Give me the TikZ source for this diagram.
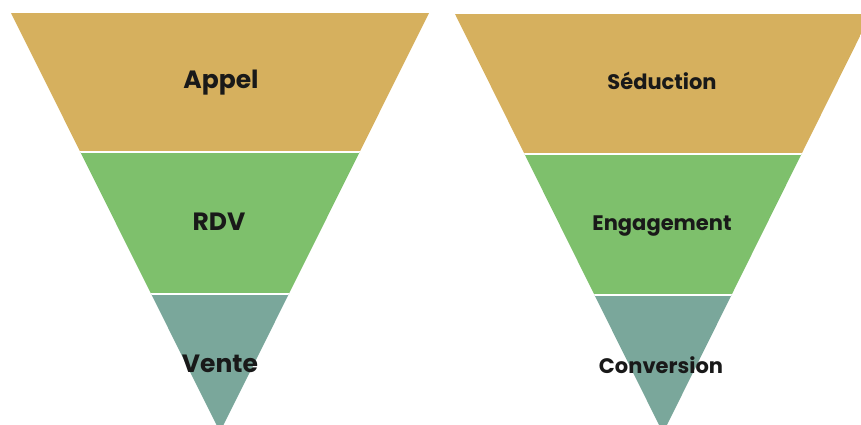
\documentclass[tikz,border=0pt]{standalone}
\usepackage{fontspec}
\setmainfont{Poppins}

\definecolor{funnelgold}{RGB}{214,176,94}
\definecolor{funnelgreen}{RGB}{126,192,108}
\definecolor{funnelteal}{RGB}{122,167,155}

\tikzset{
  bigstage/.style={font=\bfseries\fontsize{25}{25}\selectfont, anchor=base, text=black!90},
  smallstage/.style={font=\bfseries\fontsize{21}{21}\selectfont, anchor=base, text=black!90},
  gapline/.style={white, line width=2.5pt}
}

\begin{document}
\begin{tikzpicture}[x=1pt, y=-1pt]

  \useasboundingbox (0,0) rectangle (861,425);

  % Left funnel
  \begin{scope}
    \clip (11,13) -- (429,13) -- (220,432) -- cycle;
    \fill[funnelgold]  (0,13)  rectangle (440,152);
    \fill[funnelgreen] (0,152) rectangle (440,294);
    \fill[funnelteal]  (0,294) rectangle (440,440);
    \draw[gapline] (0,152) -- (440,152);
    \draw[gapline] (0,294) -- (440,294);
  \end{scope}

  % Right funnel
  \begin{scope}
    \clip (455,14) -- (871,14) -- (663,433) -- cycle;
    \fill[funnelgold]  (440,14)  rectangle (880,154);
    \fill[funnelgreen] (440,154) rectangle (880,295);
    \fill[funnelteal]  (440,295) rectangle (880,440);
    \draw[gapline] (440,154) -- (880,154);
    \draw[gapline] (440,295) -- (880,295);
  \end{scope}

  % Labels
  \node[bigstage] (appel) at (221,89)  {Appel};
  \node[bigstage] (rdv)   at (219,230) {RDV};
  \node[bigstage] (vente) at (220,372) {Vente};

  \node[smallstage] (seduction)  at (662,90)  {Séduction};
  \node[smallstage] (engagement) at (662,230) {Engagement};
  \node[smallstage] (conversion) at (661,373) {Conversion};

\end{tikzpicture}
\end{document}
